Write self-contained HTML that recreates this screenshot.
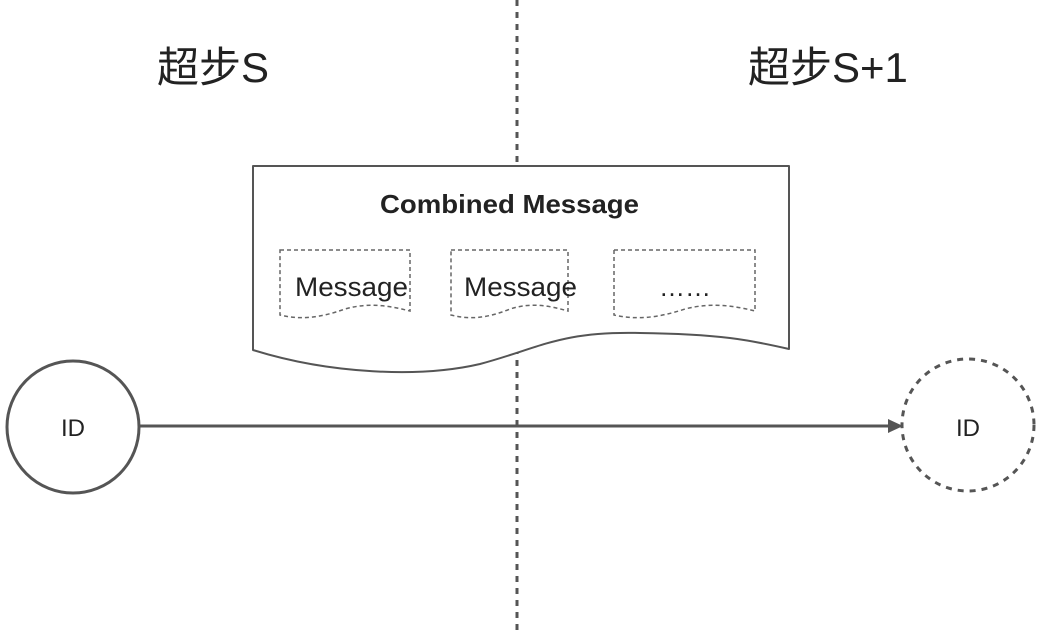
<!DOCTYPE html>
<html><head><meta charset="utf-8"><style>
html,body{margin:0;padding:0;background:#fff;}
svg{display:block;}
text{font-family:"Liberation Sans","Noto Sans CJK SC",sans-serif;fill:#222;}
</style></head><body>
<svg width="1041" height="633" viewBox="0 0 1041 633" xmlns="http://www.w3.org/2000/svg">
<line x1="517" y1="0" x2="517" y2="633" stroke="#555" stroke-width="3" stroke-dasharray="6 6"/>
<text x="157" y="82" font-size="42">超步S</text>
<text x="748" y="82" font-size="42">超步S+1</text>
<path d="M253,166 L789,166 L789,349 C750,340 720,334 640,333 C560,331 540,348 480,364 C420,378 330,374 253,350 Z" fill="#fff" stroke="#555" stroke-width="2" stroke-linejoin="round"/>
<text x="380" y="213" font-size="26" font-weight="bold" textLength="259" lengthAdjust="spacingAndGlyphs">Combined Message</text>
<g fill="none" stroke="#666" stroke-width="1.5" stroke-dasharray="4 3">
<path d="M280,250 L410,250 L410,311 C390,306 370,302 345,309 C320,318 300,320 280,315 Z"/>
<path d="M451,250 L568,250 L568,311 C550,306 532,302 510,309 C488,318 470,320 451,315 Z"/>
<path d="M614,250 L755,250 L755,311 C735,306 712,302 685,309 C658,318 636,320 614,315 Z"/>
</g>
<text x="295" y="296" font-size="27" textLength="113" lengthAdjust="spacingAndGlyphs">Message</text>
<text x="464" y="296" font-size="27" textLength="113" lengthAdjust="spacingAndGlyphs">Message</text>
<text x="685" y="296" font-size="26" text-anchor="middle">……</text>
<circle cx="73" cy="427" r="66" fill="#fff" stroke="#555" stroke-width="3"/>
<text x="73" y="436" font-size="24" text-anchor="middle">ID</text>
<line x1="140" y1="426" x2="892" y2="426" stroke="#555" stroke-width="3"/>
<polygon points="903,426 888,419 888,433" fill="#555"/>
<circle cx="968" cy="425" r="66" fill="none" stroke="#555" stroke-width="3" stroke-dasharray="6 6"/>
<text x="968" y="436" font-size="24" text-anchor="middle">ID</text>
</svg>
</body></html>
